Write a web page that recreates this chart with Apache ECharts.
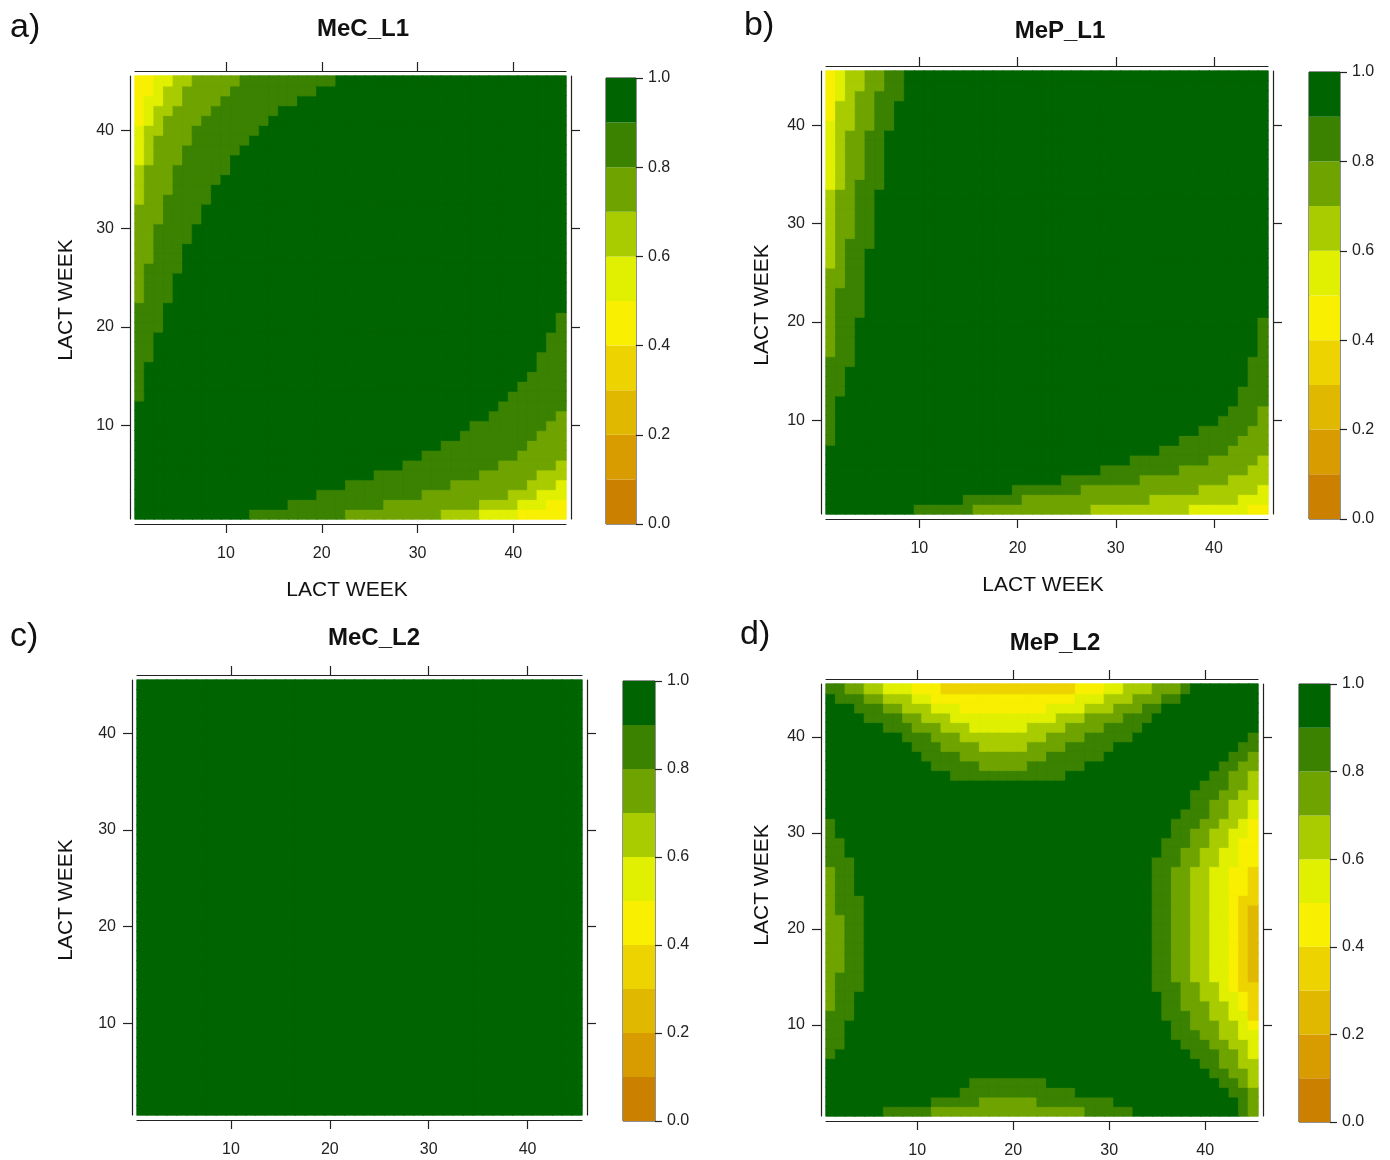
<!DOCTYPE html>
<html>
<head>
<meta charset="UTF-8">
<title>LACT WEEK correlation</title>
<script src="https://cdn.jsdelivr.net/npm/echarts@6/dist/echarts.min.js"></script>
<style>html,body{margin:0;background:#fff}#main{width:1390px;height:1160px}</style>
</head>
<body>
<div id="main"></div>
<script>
var N = 45;
// put values into a 45-long array starting at position `start` (1-based), zeros elsewhere
function seg(start, vals) {
  var a = new Array(N).fill(0);
  for (var i = 0; i < vals.length; i++) a[start - 1 + i] = vals[i];
  return a;
}

var weeks = [];
for (var w = 1; w <= N; w++) weeks.push(String(w));
var tickWeeks = [10, 20, 30, 40];
var cbBreaks = [0, 0.1, 0.2, 0.3, 0.4, 0.5, 0.6, 0.7, 0.8, 0.9, 1.0];
var levelColors = ['#CC8000', '#D99C00', '#E0B800', '#EDD400', '#F8F000',
                   '#E0F000', '#A8CC00', '#6FA300', '#3A8200', '#006400'];
var titles = ['MeC_L1', 'MeP_L1', 'MeC_L2', 'MeP_L2'];

// MeC_L1: rows from bottom below each band edge, per column (symmetric matrix)
var a_h9 = seg(13, [1,1,1,1,2,2,2,3,3,3,4,4,4,5,5,5,6,6,7,7,8,8,9,10,10,11,12,13,14,15,17,19,21]);
var a_h8 = seg(23, [1,1,1,1,2,2,2,2,3,3,3,4,4,4,5,5,6,6,7,8,9,10,11]);
var a_h7 = seg(33, [1,1,1,1,2,2,2,3,3,4,5,5,6]);
var a_h6 = seg(37, [1,1,1,1,2,2,3,3,4]);
var a_h5 = seg(41, [1,1,1,2,2]);

// MeP_L1: bottom-right heights per column, top-left widths per row
var b_br9 = seg(10, [1,1,1,1,1,2,2,2,2,2,3,3,3,3,3,4,4,4,4,5,5,5,6,6,6,7,7,8,8,9,9,10,11,13,16,20]);
var b_br8 = seg(16, [1,1,1,1,1,2,2,2,2,2,2,3,3,3,3,3,3,4,4,4,4,5,5,5,6,6,7,8,9,11]);
var b_br7 = seg(28, [1,1,1,1,1,1,2,2,2,2,2,3,3,3,4,4,5,6]);
var b_br6 = seg(38, [1,1,1,1,1,2,2,3]);
var b_br5 = seg(44, [1,1]);
var b_tl9 = seg(8, [1,1,1,1,1,2,2,2,3,3,3,3,3,4,4,4,4,4,4,4,5,5,5,5,5,5,6,6,6,6,6,6,7,7,7,8,8,8]);
var b_tl8 = seg(17, [1,1,1,1,1,1,1,2,2,2,2,2,3,3,3,3,3,3,4,4,4,4,4,5,5,5,5,6,6]);
var b_tl7 = seg(26, [1,1,1,1,1,1,1,1,2,2,2,2,2,2,3,3,3,3,4,4]);
var b_tl6 = seg(34, [1,1,1,1,1,1,1,1,1,2,2,2]);
var b_tl5 = seg(41, [1,1,1,1,1]);

// MeP_L2: top/bottom depths per column, left/right widths per row
var d_t9 = seg(1, [1,2,2,3,4,4,5,5,6,7,8,9,9,10,10,10,10,10,10,10,10,10,10,10,10,9,9,8,8,7,6,6,5,4,3,2,2,1]);
var d_t8 = seg(3, [1,1,2,2,3,3,4,5,5,6,7,7,8,8,9,9,9,9,9,8,8,7,7,6,6,5,5,4,4,3,3,2,2,1,1]);
var d_t7 = seg(5, [1,1,2,2,3,3,4,4,5,5,6,6,7,7,7,7,7,6,6,5,5,4,4,3,3,3,2,2,1,1]);
var d_t6 = seg(7, [1,1,1,2,2,3,3,4,4,5,5,5,5,5,5,4,4,4,3,3,3,2,2,1,1]);
var d_t5 = seg(10, [1,1,2,2,2,3,3,3,3,3,3,3,3,3,2,2,2,1,1,1]);
var d_t4 = seg(13, [1,1,1,1,1,1,1,1,1,1,1,1,1,1]);
var d_b9 = seg(7, [1,1,1,1,1,2,2,2,3,4,4,4,4,4,4,4,4,3,3,3,2,2,2,2,1,1]);
var d_b8 = seg(12, [1,1,1,1,1,2,2,2,2,2,2,1,1,1,1,1]);
var d_l9 = seg(7, [1,2,2,2,3,3,3,4,4,4,4,4,4,4,4,4,4,3,3,3,3,2,2,1,1]);
var d_l8 = seg(12, [1,1,1,1,2,2,2,2,2,2,1,1,1,1,1]);
var d_r9 = seg(1, [2,2,3,4,5,6,7,8,9,9,10,10,10,11,11,11,11,11,11,11,11,11,11,11,11,11,11,10,10,9,9,8,7,7,6,5,4,3,2,1]);
var d_r8 = seg(1, [1,1,1,2,3,4,4,5,6,7,7,8,8,8,9,9,9,9,9,9,9,9,9,9,9,9,8,8,7,7,6,5,5,4,3,3,2,1]);
var d_r7 = seg(4, [1,1,2,2,3,4,4,5,5,6,6,7,7,7,7,7,7,7,7,7,7,7,7,6,6,5,5,4,3,3,2,1,1]);
var d_r6 = seg(7, [1,1,2,2,3,3,4,4,5,5,5,5,5,5,5,5,5,5,5,5,4,4,3,3,2,1,1]);
var d_r5 = seg(10, [1,1,2,2,3,3,3,3,3,3,3,3,3,3,3,3,3,2,2,2,1,1]);
var d_r4 = seg(11, [1,1,1,2,2,2,2,2,2,2,2,2,2,1,1,1]);
var d_r3 = seg(15, [1,1,1,1,1,1,1,1]);

function count(list, idx, pos) {
  var c = 0;
  list.forEach(function (arr) { if (pos <= arr[idx - 1]) c++; });
  return c;
}
var A = [a_h9, a_h8, a_h7, a_h6, a_h5];
var BBR = [b_br9, b_br8, b_br7, b_br6, b_br5];
var BTL = [b_tl9, b_tl8, b_tl7, b_tl6, b_tl5];
var DT = [d_t9, d_t8, d_t7, d_t6, d_t5, d_t4];
var DB = [d_b9, d_b8];
var DL = [d_l9, d_l8];
var DR = [d_r9, d_r8, d_r7, d_r6, d_r5, d_r4, d_r3];

var levelFns = [
  function (x, y) { return 9 - count(A, x, y) - count(A, y, x); },
  function (x, y) { return 9 - count(BBR, x, y) - count(BTL, y, x); },
  function (x, y) { return 9; },
  function (x, y) {
    return 9 - count(DT, x, N + 1 - y) - count(DB, x, y) - count(DL, y, x) - count(DR, y, N + 1 - x);
  }
];

var heatGrids = [
  {left: 135, top: 76, width: 431, height: 443},
  {left: 826, top: 71, width: 442, height: 443},
  {left: 137, top: 680, width: 445, height: 435},
  {left: 826, top: 684, width: 432, height: 432}
];
var cbGrids = [
  {left: 606, top: 78, width: 30, height: 446},
  {left: 1309, top: 72, width: 31, height: 447},
  {left: 623, top: 681, width: 32, height: 440},
  {left: 1299, top: 684, width: 31, height: 438}
];

var grid = [], xAxis = [], yAxis = [], series = [];
var lineStyle = {color: '#222', width: 1.2};
function valueAxis(gi, pos, labels, margin) {
  return {
    type: 'value', gridIndex: gi, position: pos, min: 0.5, max: 45.5, offset: 5,
    axisLine: {show: true, onZero: false, lineStyle: lineStyle},
    axisTick: {show: true, length: 9, customValues: tickWeeks, lineStyle: lineStyle},
    axisLabel: {show: labels, customValues: tickWeeks, fontSize: 16, color: '#222',
                fontFamily: 'Liberation Sans', margin: margin || 16},
    splitLine: {show: false}
  };
}
for (var p = 0; p < 4; p++) {
  grid.push(heatGrids[p]);
  xAxis.push({type: 'category', gridIndex: p, data: weeks, show: false});
  xAxis.push(valueAxis(p, 'bottom', true, 22));
  xAxis.push(valueAxis(p, 'top', false));
  yAxis.push({type: 'category', gridIndex: p, data: weeks, show: false});
  yAxis.push(valueAxis(p, 'left', true, 16));
  yAxis.push(valueAxis(p, 'right', false));
  var data = [];
  for (var x = 1; x <= N; x++)
    for (var y = 1; y <= N; y++) {
      var lv = Math.max(0, levelFns[p](x, y));
      data.push({value: [x - 1, y - 1, lv],
                 itemStyle: {borderColor: levelColors[lv], borderWidth: 0.8}});
    }
  series.push({type: 'heatmap', xAxisIndex: 3 * p, yAxisIndex: 3 * p, data: data,
               emphasis: {disabled: true}});
}
for (var c = 0; c < 4; c++) {
  var gi = 4 + c;
  grid.push(Object.assign({show: true, borderColor: '#222', borderWidth: 1}, cbGrids[c]));
  xAxis.push({type: 'category', gridIndex: gi, data: ['k'], show: false});
  yAxis.push({
    type: 'value', gridIndex: gi, position: 'right', min: 0, max: 1, interval: 0.2,
    axisLine: {show: false},
    axisTick: {show: true, length: 7, lineStyle: lineStyle},
    axisLabel: {fontSize: 16, color: '#222', fontFamily: 'Liberation Sans', margin: 12,
                formatter: function (v) { return v.toFixed(1); }},
    splitLine: {show: false}
  });
  for (var k = 0; k < 10; k++) {
    series.push({type: 'bar', xAxisIndex: 12 + c, yAxisIndex: 12 + c, stack: 'cb' + c,
                 barWidth: '100%', silent: true,
                 data: [+(cbBreaks[k + 1] - cbBreaks[k]).toFixed(2)],
                 itemStyle: {color: levelColors[k]}});
  }
}

var pieces = levelColors.map(function (col, i) { return {value: i, color: col}; });

function txt(x, y, s, size, bold, rot, align) {
  return {type: 'text', x: x, y: y, rotation: rot || 0,
          style: {text: s, fontSize: size, fontWeight: bold ? 'bold' : 'normal',
                  fontFamily: 'Liberation Sans', fill: '#111',
                  align: align || 'center', verticalAlign: 'middle'}};
}
var graphic = [
  txt(10, 28, 'a)', 34, false, 0, 'left'),
  txt(744, 26, 'b)', 34, false, 0, 'left'),
  txt(10, 637, 'c)', 34, false, 0, 'left'),
  txt(740, 635, 'd)', 34, false, 0, 'left'),
  txt(363, 29, titles[0], 24, true),
  txt(1060, 31, titles[1], 24, true),
  txt(374, 638, titles[2], 24, true),
  txt(1055, 643, titles[3], 24, true),
  txt(347, 590, 'LACT WEEK', 21, false),
  txt(1043, 585, 'LACT WEEK', 21, false),
  txt(66, 300, 'LACT WEEK', 21, false, Math.PI / 2),
  txt(762, 305, 'LACT WEEK', 21, false, Math.PI / 2),
  txt(66, 900, 'LACT WEEK', 21, false, Math.PI / 2),
  txt(762, 885, 'LACT WEEK', 21, false, Math.PI / 2)
];

var myChart = echarts.init(document.getElementById('main'));
myChart.setOption({
  backgroundColor: '#fff',
  animation: false,
  grid: grid,
  xAxis: xAxis,
  yAxis: yAxis,
  visualMap: {type: 'piecewise', show: false, seriesIndex: [0, 1, 2, 3], dimension: 2, pieces: pieces},
  series: series,
  graphic: graphic
});
</script>
</body>
</html>
